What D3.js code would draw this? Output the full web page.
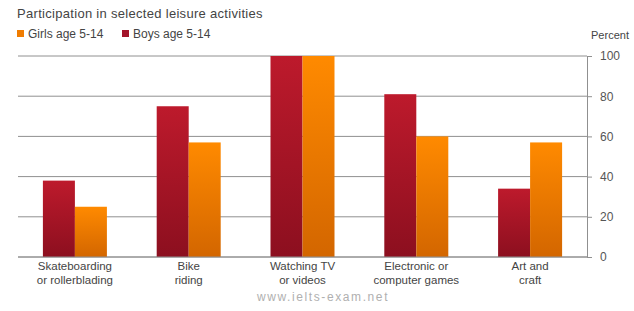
<!DOCTYPE html>
<html>
<head>
<meta charset="utf-8">
<script src="https://cdn.jsdelivr.net/npm/d3@7"></script>
<style>
body{margin:0;background:#fff;}
text{font-family:"Liberation Sans",Arial,sans-serif;}
</style>
</head>
<body>
<script>
var categories = [["Skateboarding","or rollerblading"],["Bike","riding"],["Watching TV","or videos"],["Electronic or","computer games"],["Art and","craft"]];
var boys = [38, 75, 100, 81, 34];
var girls = [25, 57, 100, 60, 57];
var yTicks = [0, 20, 40, 60, 80, 100];
var seriesNames = ["Girls age 5-14", "Boys age 5-14"];

var svg = d3.select("body").append("svg").attr("width",634).attr("height",311);

var defs = svg.append("defs");
var gb = defs.append("linearGradient").attr("id","gBoys").attr("x1",0).attr("y1",0).attr("x2",0).attr("y2",1);
gb.append("stop").attr("offset","0%").attr("stop-color","#bd1a2c");
gb.append("stop").attr("offset","100%").attr("stop-color","#8c0f1f");
var gg = defs.append("linearGradient").attr("id","gGirls").attr("x1",0).attr("y1",0).attr("x2",0).attr("y2",1);
gg.append("stop").attr("offset","0%").attr("stop-color","#ff8a00");
gg.append("stop").attr("offset","100%").attr("stop-color","#d36600");

var idx = d3.range(categories.length);
var x = d3.scaleBand().domain(idx).range([18,587]).paddingInner(0.4376).paddingOuter(0.2188);
var sub = d3.scaleBand().domain(["b","g"]).range([0, x.bandwidth()]);
var y = d3.scaleLinear().domain([0,100]).range([257,56]);

// gridlines
svg.selectAll("line.grid").data(yTicks).enter().append("line")
    .attr("class","grid")
    .attr("x1",18).attr("x2",587)
    .attr("y1",function(d){return y(d);}).attr("y2",function(d){return y(d);})
    .attr("stroke","#909090").attr("stroke-width",1);

// bars
svg.selectAll("rect.boys").data(boys).enter().append("rect")
    .attr("class","boys")
    .attr("x",function(d,i){return x(i)+sub("b");})
    .attr("width",sub.bandwidth())
    .attr("y",function(d){return y(d);})
    .attr("height",function(d){return y(0)-y(d);})
    .attr("fill","url(#gBoys)");
svg.selectAll("rect.girls").data(girls).enter().append("rect")
    .attr("class","girls")
    .attr("x",function(d,i){return x(i)+sub("g");})
    .attr("width",sub.bandwidth())
    .attr("y",function(d){return y(d);})
    .attr("height",function(d){return y(0)-y(d);})
    .attr("fill","url(#gGirls)");

// right axis
var yAxis = d3.axisRight(y).tickValues(yTicks).tickSize(5).tickPadding(8);
var ax = svg.append("g").attr("transform","translate(587,0)").call(yAxis);
ax.select(".domain").attr("stroke","#909090");
ax.selectAll(".tick line").attr("stroke","#909090");
ax.selectAll(".tick text").attr("font-size",12).attr("fill","#555").style("font-family","Liberation Sans, Arial, sans-serif");

svg.append("text").attr("x",610).attr("y",39).attr("text-anchor","middle")
    .attr("font-size",11).attr("fill","#444").text("Percent");

// bottom axis line
svg.append("line").attr("x1",18).attr("x2",587).attr("y1",y(0)).attr("y2",y(0))
    .attr("stroke","#909090");

// category labels
svg.selectAll("text.cat").data(categories).enter().append("text")
    .attr("class","cat")
    .attr("text-anchor","middle")
    .attr("font-size",11.5).attr("fill","#444")
    .each(function(d,i){
        var t = d3.select(this);
        d.forEach(function(line,j){
            t.append("tspan").attr("x",x(i)+x.bandwidth()/2).attr("y",270+j*14).text(line);
        });
    });

// title and legend
svg.append("text").attr("x",17).attr("y",18).attr("font-size",13).attr("fill","#444")
    .attr("letter-spacing",0.3)
    .text("Participation in selected leisure activities");
var legend = svg.selectAll("g.leg").data(seriesNames).enter().append("g")
    .attr("class","leg")
    .attr("transform",function(d,i){return "translate("+(17+i*105)+",29)";});
legend.append("rect").attr("width",7).attr("height",7).attr("y",1)
    .attr("fill",function(d,i){return i==0 ? "#f07c00" : "#a3142a";});
legend.append("text").attr("x",11).attr("y",9).attr("font-size",12).attr("fill","#444")
    .text(function(d){return d;});

// watermark
svg.append("text").attr("x",323).attr("y",301).attr("text-anchor","middle")
    .attr("font-size",12).attr("fill","#b0b0b0").attr("letter-spacing",1.6)
    .text("www.ielts-exam.net");
</script>
</body>
</html>
